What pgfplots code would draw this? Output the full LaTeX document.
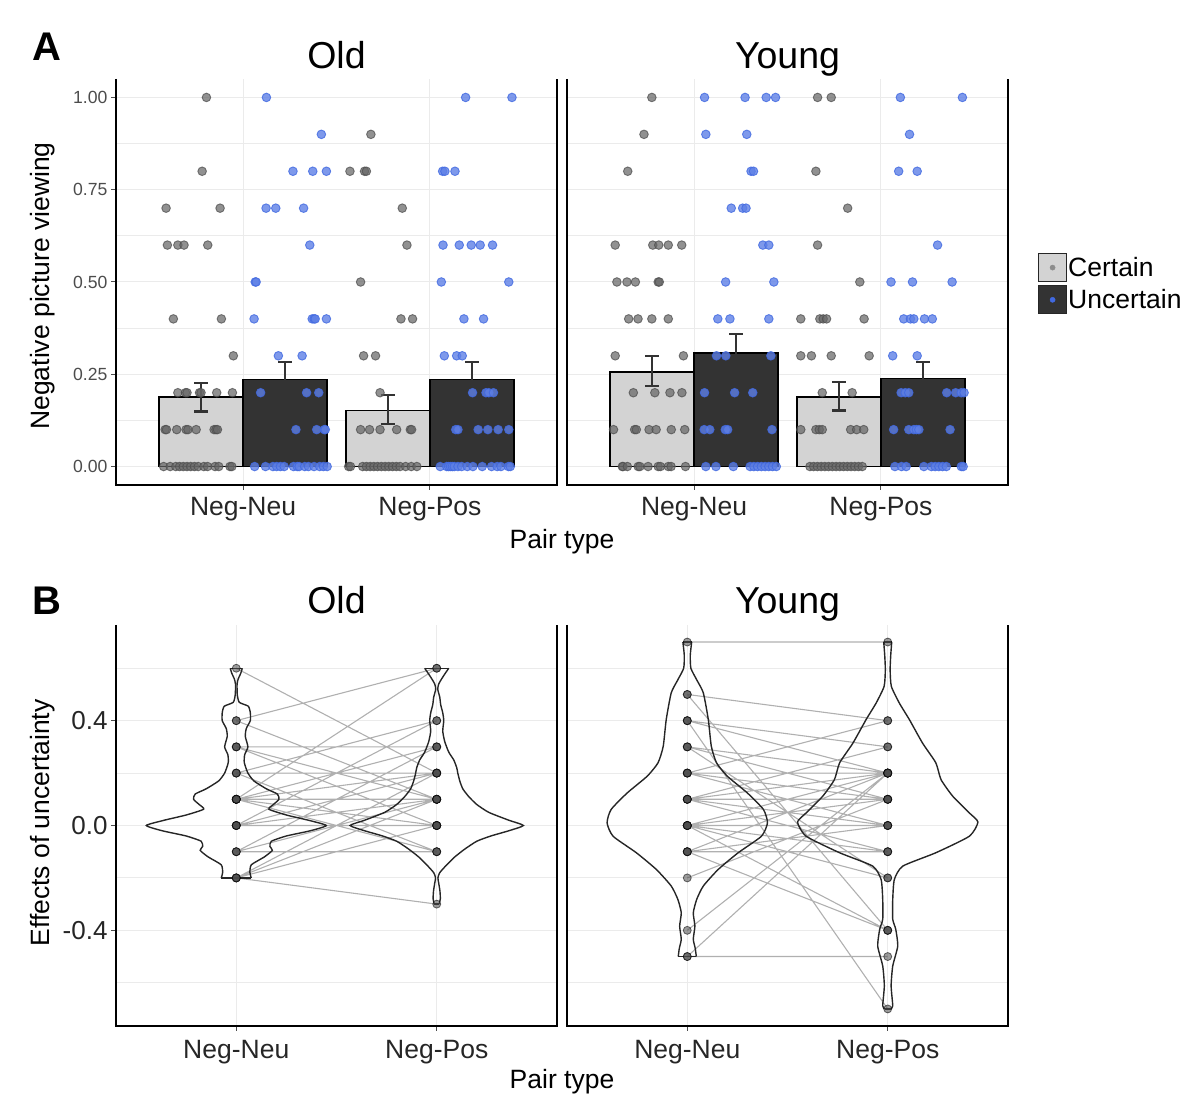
\documentclass[border=0pt]{standalone}
\usepackage{pgfplots}
\usepackage{pgfplotstable}
\pgfplotsset{compat=1.18}
\usepackage{fontspec}
\setmainfont{Liberation Sans}
\definecolor{cbar}{HTML}{D3D3D3}
\definecolor{ubar}{HTML}{333333}
\definecolor{errc}{HTML}{333333}
\definecolor{rblue}{HTML}{4169E1}
\definecolor{gridc}{HTML}{EBEBEB}
\definecolor{linec}{HTML}{B0B0B0}

\pgfplotsset{
 common/.style={scale only axis, anchor=south west, axis line style={draw=none}, clip=false,
   tick align=outside, major tick length=5pt, tick style={black!70, line width=1pt},
   xtick pos=bottom, ytick pos=left, xtick={1,2}, xticklabels={Neg-Neu,Neg-Pos},
   xmajorgrids, ymajorgrids, yminorgrids,
   major grid style={gridc, line width=1pt}, minor grid style={gridc, line width=1pt},
   minor tick length=0pt,
   xticklabel style={font=\fontsize{26.5}{30}\selectfont, text=black!85}},
 panelA/.style={common, width=441pt, height=406pt, xmin=0.32, xmax=2.68, ymin=-0.05, ymax=1.05,
   ytick={0,0.25,0.5,0.75,1}, minor ytick={0.125,0.375,0.625,0.875},
   yticklabel style={font=\fontsize{17.6}{20}\selectfont, text=black!70},
   xticklabel style={yshift=-4pt}},
 panelB/.style={common, width=441pt, height=401pt, xmin=0.4, xmax=2.6, ymin=-0.765, ymax=0.765,
   ytick={-0.4,0,0.4}, minor ytick={-0.6,-0.2,0.2,0.6},
   yticklabel style={font=\fontsize{26}{30}\selectfont, text=black!85},
   xticklabel style={yshift=-6pt}},
 barC/.style={ybar, bar width=0.45, bar shift=-0.225, fill=cbar, draw=black, line width=1.4pt, forget plot},
 barU/.style={ybar, bar width=0.45, bar shift=0.225, fill=ubar, draw=black, line width=1.4pt, forget plot},
 errl/.style={forget plot, color=errc, line width=2.2pt, unbounded coords=jump, mark=none},
 gpts/.style={only marks, forget plot, mark=*, mark size=4.3pt, mark options={draw=black!70, fill=black!60, line width=0.9pt}, opacity=0.72},
 bpts/.style={only marks, forget plot, mark=*, mark size=4.3pt, mark options={draw=rblue, fill=rblue!85, line width=0.9pt}, opacity=0.8},
 pairl/.style={forget plot, color=linec, line width=1.1pt, unbounded coords=jump, mark=none},
 pairm/.style={forget plot, only marks, mark=*, mark size=4pt, mark options={draw=black, fill=black!70, line width=0.8pt}, opacity=0.55},
 violin/.style={forget plot, color=black!85, line width=1.4pt, mark=none, smooth, tension=0.35},
 cap/.style={forget plot, color=black!85, line width=1.4pt, mark=none},
}

% violin profiles: y, half width
\pgfplotstableread{
y hw
0.600 0.030
0.580 0.022
0.560 0.010
0.540 0.004
0.500 0.005
0.470 0.015
0.455 0.060
0.430 0.070
0.400 0.070
0.370 0.050
0.340 0.045
0.300 0.058
0.270 0.042
0.240 0.040
0.200 0.058
0.170 0.088
0.140 0.150
0.120 0.205
0.100 0.213
0.080 0.185
0.062 0.163
0.040 0.250
0.020 0.360
0.000 0.449
-0.020 0.370
-0.040 0.250
-0.060 0.175
-0.080 0.168
-0.095 0.180
-0.120 0.140
-0.150 0.075
-0.180 0.068
-0.200 0.075
}\vOldNN
\pgfplotstableread{
y hw
0.600 0.060
0.580 0.042
0.560 0.025
0.540 0.010
0.520 0.005
0.490 0.015
0.460 0.020
0.430 0.030
0.400 0.035
0.360 0.030
0.320 0.040
0.280 0.060
0.250 0.085
0.220 0.100
0.200 0.105
0.170 0.115
0.140 0.130
0.110 0.160
0.080 0.200
0.050 0.260
0.020 0.360
0.000 0.432
-0.020 0.360
-0.040 0.270
-0.060 0.200
-0.090 0.140
-0.120 0.090
-0.150 0.050
-0.180 0.015
-0.200 0.006
-0.220 0.010
-0.250 0.016
-0.280 0.018
-0.300 0.012
}\vOldNP
\pgfplotstableread{
y hw
0.700 0.022
0.650 0.015
0.600 0.018
0.556 0.047
0.506 0.080
0.404 0.105
0.302 0.120
0.239 0.146
0.188 0.200
0.124 0.300
0.061 0.380
0.010 0.400
-0.041 0.370
-0.104 0.254
-0.168 0.154
-0.231 0.080
-0.282 0.047
-0.333 0.030
-0.384 0.038
-0.434 0.030
-0.470 0.040
-0.500 0.045
}\vYoungNN
\pgfplotstableread{
y hw
0.700 0.020
0.650 0.015
0.594 0.012
0.531 0.018
0.467 0.058
0.404 0.108
0.314 0.174
0.239 0.240
0.175 0.266
0.112 0.324
0.048 0.407
0.013 0.450
-0.041 0.407
-0.104 0.240
-0.155 0.075
-0.206 0.033
-0.282 0.025
-0.358 0.025
-0.396 0.040
-0.460 0.050
-0.536 0.025
-0.612 0.017
-0.688 0.025
-0.700 0.015
}\vYoungNP

% error bars: vertical segment and two caps per bar, separated by nan rows
\pgfplotstableread{
x y
0.775 0.149
0.775 0.227
0.775 nan
0.738 0.149
0.812 0.149
0.775 nan
0.738 0.227
0.812 0.227
0.775 nan
1.225 0.189
1.225 0.283
1.225 nan
1.188 0.283
1.262 0.283
1.225 nan
1.775 0.116
1.775 0.194
1.775 nan
1.738 0.116
1.812 0.116
1.775 nan
1.738 0.194
1.812 0.194
1.775 nan
2.225 0.189
2.225 0.283
2.225 nan
2.188 0.283
2.262 0.283
}\errOld
\pgfplotstableread{
x y
0.775 0.218
0.775 0.299
0.775 nan
0.738 0.218
0.812 0.218
0.775 nan
0.738 0.299
0.812 0.299
0.775 nan
1.225 0.256
1.225 0.360
1.225 nan
1.188 0.360
1.262 0.360
1.225 nan
1.775 0.152
1.775 0.228
1.775 nan
1.738 0.152
1.812 0.152
1.775 nan
1.738 0.228
1.812 0.228
1.775 nan
2.225 0.195
2.225 0.283
2.225 nan
2.188 0.283
2.262 0.283
}\errYoung

% paired lines (Neg-Neu value -> Neg-Pos value), separated by nan rows
\pgfplotstableread{
x y
1 0.6
2 0.2
1 nan
1 0.4
2 0.6
1 nan
1 0.1
2 0.6
1 nan
1 0.4
2 0.1
1 nan
1 0.3
2 0.3
1 nan
1 0.3
2 0.0
1 nan
1 0.2
2 0.2
1 nan
1 0.2
2 0.4
1 nan
1 0.2
2 -0.1
1 nan
1 0.1
2 0.1
1 nan
1 0.1
2 0.2
1 nan
1 0.1
2 0.0
1 nan
1 0.1
2 -0.1
1 nan
1 0.1
2 0.3
1 nan
1 0.0
2 0.0
1 nan
1 0.0
2 0.4
1 nan
1 0.0
2 0.1
1 nan
1 0.0
2 0.2
1 nan
1 -0.1
2 0.3
1 nan
1 -0.1
2 0.1
1 nan
1 -0.1
2 -0.1
1 nan
1 -0.2
2 -0.3
1 nan
1 -0.2
2 0.1
1 nan
1 -0.2
2 0.0
1 nan
1 -0.2
2 0.2
1 nan
1 0.3
2 0.1
1 nan
1 0.1
2 0.1
1 nan
1 0.0
2 0.0
1 nan
1 0.1
2 0.0
}\pairsOld
\pgfplotstableread{
x y
1 0.7
2 0.7
1 nan
1 -0.5
2 -0.5
1 nan
1 0.5
2 0.4
1 nan
1 0.5
2 -0.4
1 nan
1 0.4
2 -0.7
1 nan
1 0.4
2 0.3
1 nan
1 0.4
2 0.2
1 nan
1 0.3
2 0.2
1 nan
1 0.3
2 0.1
1 nan
1 0.3
2 -0.2
1 nan
1 0.2
2 0.4
1 nan
1 0.2
2 0.1
1 nan
1 0.2
2 0.0
1 nan
1 0.1
2 0.3
1 nan
1 0.1
2 0.1
1 nan
1 0.1
2 0.2
1 nan
1 0.1
2 -0.1
1 nan
1 0.0
2 0.2
1 nan
1 0.0
2 0.0
1 nan
1 0.0
2 0.1
1 nan
1 0.0
2 -0.4
1 nan
1 0.0
2 -0.1
1 nan
1 -0.1
2 -0.1
1 nan
1 -0.1
2 0.2
1 nan
1 -0.1
2 -0.4
1 nan
1 -0.1
2 0.0
1 nan
1 -0.2
2 0.1
1 nan
1 -0.4
2 0.2
1 nan
1 -0.5
2 0.2
1 nan
1 0.0
2 -0.2
1 nan
1 0.1
2 0.0
1 nan
1 0.2
2 0.2
}\pairsYoung

\begin{document}
\begin{tikzpicture}[x=1pt,y=1pt]

% ================= Panel A, Old
\begin{axis}[panelA, at={(116pt,609pt)}, yticklabels={0.00,0.25,0.50,0.75,1.00}]
\addplot[barC] coordinates {(1,0.188) (2,0.152)};
\addplot[barU] coordinates {(1,0.236) (2,0.236)};
\addplot[errl] table[x=x, y=y] {\errOld};
\addplot[gpts] coordinates {
(0.804,1.0) (0.781,0.8) (0.588,0.7) (0.877,0.7)
(0.595,0.6) (0.651,0.6) (0.684,0.6) (0.811,0.6)
(0.627,0.4) (0.884,0.4) (0.948,0.3)
(0.651,0.2) (0.692,0.2) (0.700,0.2) (0.767,0.2) (0.775,0.2) (0.859,0.2) (0.943,0.2)
(0.583,0.1) (0.590,0.1) (0.645,0.1) (0.695,0.1) (0.705,0.1) (0.749,0.1) (0.845,0.1) (0.855,0.1) (0.863,0.1)
(0.575,0) (0.61,0) (0.64,0) (0.66,0) (0.68,0) (0.70,0) (0.72,0) (0.74,0) (0.76,0) (0.79,0) (0.81,0) (0.85,0) (0.87,0) (0.93,0) (0.94,0)
(1.684,0.9) (1.572,0.8) (1.650,0.8) (1.660,0.8) (1.852,0.7) (1.877,0.6) (1.629,0.5)
(1.845,0.4) (1.907,0.4) (1.645,0.3) (1.709,0.3) (1.733,0.2)
(1.629,0.1) (1.677,0.1) (1.733,0.1) (1.822,0.1) (1.895,0.1) (1.902,0.1)
(1.565,0) (1.575,0) (1.64,0) (1.66,0) (1.68,0) (1.70,0) (1.72,0) (1.74,0) (1.76,0) (1.78,0) (1.80,0) (1.82,0) (1.84,0) (1.87,0) (1.90,0) (1.93,0)
};
\addplot[bpts] coordinates {
(1.125,1.0) (1.419,0.9) (1.267,0.8) (1.373,0.8) (1.446,0.8)
(1.123,0.7) (1.175,0.7) (1.324,0.7) (1.357,0.6) (1.065,0.5) (1.070,0.5)
(1.059,0.4) (1.370,0.4) (1.380,0.4) (1.386,0.4) (1.446,0.4)
(1.189,0.3) (1.316,0.3) (1.094,0.2) (1.340,0.2) (1.405,0.2)
(1.283,0.1) (1.394,0.1) (1.435,0.1) (1.440,0.1)
(1.062,0) (1.12,0) (1.16,0) (1.18,0) (1.20,0) (1.22,0) (1.27,0) (1.29,0) (1.30,0) (1.33,0) (1.35,0) (1.38,0) (1.41,0) (1.43,0) (1.45,0)
(2.191,1.0) (2.439,1.0) (2.068,0.8) (2.080,0.8) (2.134,0.8)
(2.070,0.6) (2.157,0.6) (2.221,0.6) (2.269,0.6) (2.335,0.6)
(2.061,0.5) (2.422,0.5) (2.182,0.4) (2.287,0.4)
(2.077,0.3) (2.143,0.3) (2.173,0.3)
(2.228,0.2) (2.300,0.2) (2.315,0.2) (2.340,0.2)
(2.138,0.1) (2.150,0.1) (2.258,0.1) (2.310,0.1) (2.365,0.1) (2.422,0.1)
(2.055,0) (2.09,0) (2.10,0) (2.11,0) (2.12,0) (2.13,0) (2.15,0) (2.17,0) (2.20,0) (2.23,0) (2.28,0) (2.33,0) (2.36,0) (2.38,0) (2.42,0) (2.43,0)
};
\draw[line width=2.2pt] (rel axis cs:0,1) -- (rel axis cs:0,0) -- (rel axis cs:1,0) -- (rel axis cs:1,1);
\end{axis}

% ================= Panel A, Young
\begin{axis}[panelA, at={(567pt,609pt)}, ytick style={draw=none}, yticklabels={,,,,,},
  legend style={at={(1.068,0.5714)}, anchor=north west, draw=none, fill=none,
    font=\fontsize{26.5}{30}\selectfont, inner sep=0pt, outer sep=0pt, row sep=3pt,
    nodes={inner sep=1pt}}, legend cell align=left]
\addlegendimage{legend image code/.code={\draw[fill=cbar, draw=black!85, line width=1.2pt] (0pt,-14pt) rectangle (28pt,14pt); \fill[black!45] (14pt,0pt) circle (2.6pt);}}
\addlegendentry{Certain}
\addlegendimage{legend image code/.code={\draw[fill=ubar, draw=black!85, line width=1.2pt] (0pt,-14pt) rectangle (28pt,14pt); \fill[rblue] (14pt,0pt) circle (2.6pt);}}
\addlegendentry{Uncertain}
\addplot[barC] coordinates {(1,0.256) (2,0.188)};
\addplot[barU] coordinates {(1,0.308) (2,0.239)};
\addplot[errl] table[x=x, y=y] {\errYoung};
\addplot[gpts] coordinates {
(0.774,1.0) (0.732,0.9) (0.645,0.8)
(0.578,0.6) (0.779,0.6) (0.811,0.6) (0.862,0.6) (0.934,0.6)
(0.587,0.5) (0.641,0.5) (0.686,0.5) (0.808,0.5) (0.814,0.5)
(0.650,0.4) (0.700,0.4) (0.774,0.4) (0.862,0.4)
(0.578,0.3) (0.943,0.3)
(0.675,0.2) (0.790,0.2) (0.871,0.2) (0.935,0.2)
(0.569,0.1) (0.682,0.1) (0.691,0.1) (0.759,0.1) (0.797,0.1) (0.878,0.1) (0.950,0.1)
(0.616,0) (0.62,0) (0.643,0) (0.701,0) (0.71,0) (0.754,0) (0.808,0) (0.82,0) (0.862,0) (0.877,0) (0.954,0)
(1.661,1.0) (1.734,1.0) (1.652,0.8) (1.822,0.7) (1.661,0.6) (1.887,0.5)
(1.571,0.4) (1.673,0.4) (1.691,0.4) (1.709,0.4) (1.910,0.4)
(1.571,0.3) (1.628,0.3) (1.734,0.3) (1.937,0.3)
(1.686,0.2) (1.846,0.2)
(1.571,0.1) (1.652,0.1) (1.670,0.1) (1.686,0.1) (1.838,0.1) (1.870,0.1) (1.908,0.1)
(1.62,0) (1.64,0) (1.66,0) (1.68,0) (1.70,0) (1.72,0) (1.74,0) (1.76,0) (1.78,0) (1.80,0) (1.82,0) (1.84,0) (1.86,0) (1.88,0) (1.90,0)
};
\addplot[bpts] coordinates {
(1.056,1.0) (1.273,1.0) (1.386,1.0) (1.436,1.0)
(1.063,0.9) (1.282,0.9) (1.305,0.8) (1.318,0.8)
(1.199,0.7) (1.260,0.7) (1.278,0.7) (1.368,0.6) (1.400,0.6)
(1.169,0.5) (1.427,0.5) (1.127,0.4) (1.192,0.4) (1.400,0.4)
(1.120,0.3) (1.170,0.3) (1.411,0.3) (1.056,0.2) (1.217,0.2) (1.314,0.2)
(1.054,0.1) (1.084,0.1) (1.167,0.1) (1.180,0.1) (1.417,0.1)
(1.063,0) (1.117,0) (1.21,0) (1.30,0) (1.32,0) (1.34,0) (1.36,0) (1.38,0) (1.40,0) (1.42,0) (1.44,0)
(2.104,1.0) (2.436,1.0) (2.153,0.9) (2.095,0.8) (2.194,0.8) (2.303,0.6)
(2.054,0.5) (2.169,0.5) (2.381,0.5)
(2.122,0.4) (2.158,0.4) (2.176,0.4) (2.233,0.4) (2.275,0.4)
(2.063,0.3) (2.194,0.3)
(2.108,0.2) (2.130,0.2) (2.149,0.2) (2.352,0.2) (2.400,0.2) (2.430,0.2) (2.445,0.2)
(2.068,0.1) (2.149,0.1) (2.176,0.1) (2.190,0.1) (2.203,0.1) (2.370,0.1)
(2.075,0) (2.11,0) (2.135,0) (2.23,0) (2.27,0) (2.29,0) (2.31,0) (2.33,0) (2.35,0) (2.43,0) (2.44,0)
};
\draw[line width=2.2pt] (rel axis cs:0,1) -- (rel axis cs:0,0) -- (rel axis cs:1,0) -- (rel axis cs:1,1);
\end{axis}

% ================= Panel B, Old
\begin{axis}[panelB, at={(116pt,68pt)}, yticklabels={-0.4,0.0,0.4}]
\addplot[pairl] table[x=x, y=y] {\pairsOld};
\addplot[violin] table[x expr=1+\thisrow{hw}, y=y] {\vOldNN};
\addplot[violin] table[x expr=1-\thisrow{hw}, y=y] {\vOldNN};
\addplot[cap] coordinates {(0.970,0.6) (1.030,0.6)};
\addplot[cap] coordinates {(0.925,-0.2) (1.075,-0.2)};
\addplot[violin] table[x expr=2+\thisrow{hw}, y=y] {\vOldNP};
\addplot[violin] table[x expr=2-\thisrow{hw}, y=y] {\vOldNP};
\addplot[cap] coordinates {(1.940,0.6) (2.060,0.6)};
\addplot[cap] coordinates {(1.988,-0.3) (2.012,-0.3)};
\addplot[pairm] table[x=x, y=y] {\pairsOld};
\draw[line width=2.2pt] (rel axis cs:0,1) -- (rel axis cs:0,0) -- (rel axis cs:1,0) -- (rel axis cs:1,1);
\end{axis}

% ================= Panel B, Young
\begin{axis}[panelB, at={(567pt,68pt)}, ytick style={draw=none}, yticklabels={,,,}]
\addplot[pairl] table[x=x, y=y] {\pairsYoung};
\addplot[violin] table[x expr=1+\thisrow{hw}, y=y] {\vYoungNN};
\addplot[violin] table[x expr=1-\thisrow{hw}, y=y] {\vYoungNN};
\addplot[cap] coordinates {(0.978,0.7) (1.022,0.7)};
\addplot[cap] coordinates {(0.955,-0.5) (1.045,-0.5)};
\addplot[violin] table[x expr=2+\thisrow{hw}, y=y] {\vYoungNP};
\addplot[violin] table[x expr=2-\thisrow{hw}, y=y] {\vYoungNP};
\addplot[cap] coordinates {(1.980,0.7) (2.020,0.7)};
\addplot[cap] coordinates {(1.985,-0.7) (2.015,-0.7)};
\addplot[pairm] table[x=x, y=y] {\pairsYoung};
\draw[line width=2.2pt] (rel axis cs:0,1) -- (rel axis cs:0,0) -- (rel axis cs:1,0) -- (rel axis cs:1,1);
\end{axis}

% ================= Text
\node[anchor=base west, font=\fontsize{40}{44}\selectfont\bfseries] at (29,1033) {A};
\node[anchor=base west, font=\fontsize{40}{44}\selectfont\bfseries] at (29,479) {B};
\node[anchor=base, font=\fontsize{37.5}{40}\selectfont] at (336.5,1025) {Old};
\node[anchor=base, font=\fontsize{37.5}{40}\selectfont] at (787.5,1025) {Young};
\node[anchor=base, font=\fontsize{37.5}{40}\selectfont] at (336.5,480) {Old};
\node[anchor=base, font=\fontsize{37.5}{40}\selectfont] at (787.5,480) {Young};
\node[anchor=base, font=\fontsize{26.5}{30}\selectfont] at (562,545) {Pair type};
\node[anchor=base, font=\fontsize{26.5}{30}\selectfont] at (562,5) {Pair type};
\node[rotate=90, font=\fontsize{26.5}{30}\selectfont] at (43,808) {Negative picture viewing};
\node[rotate=90, font=\fontsize{26.5}{30}\selectfont] at (43,271) {Effects of uncertainty};

\pgfresetboundingbox
\path[use as bounding box] (0,0) rectangle (1187,1094);
\end{tikzpicture}
\end{document}
